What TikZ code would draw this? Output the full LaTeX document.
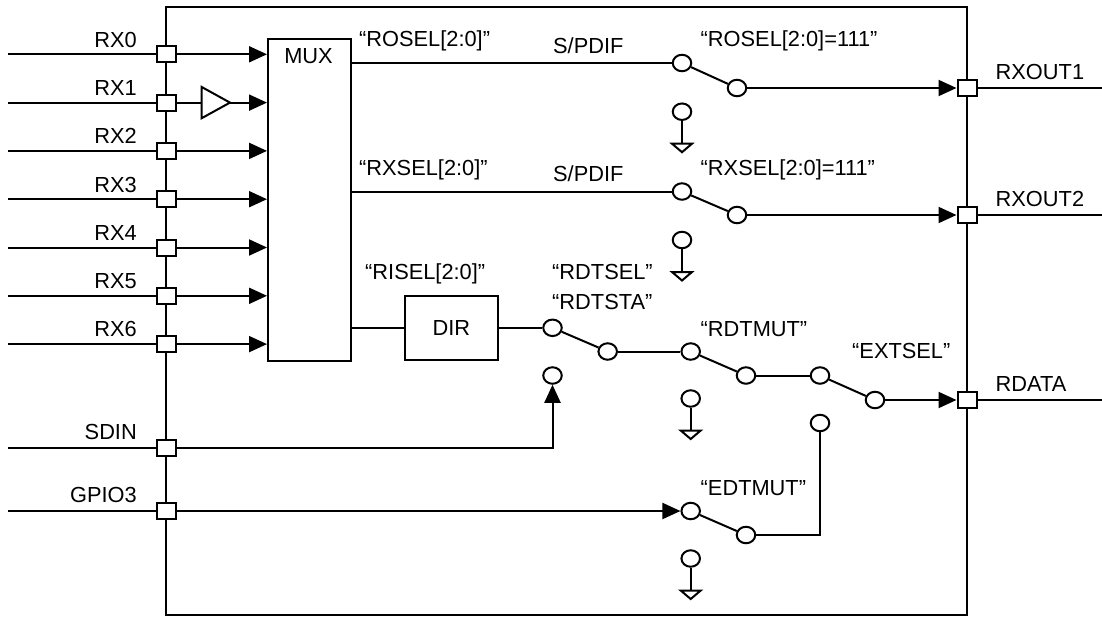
\documentclass[tikz,border=0pt]{standalone}
\usepackage{fontspec}
\setmainfont{Liberation Sans}
\usetikzlibrary{arrows.meta,shapes.geometric,calc}
\begin{document}
\begin{tikzpicture}[x=1pt,y=-1pt,
  wire/.style={line width=2pt},
  arr/.style={wire,-{Triangle[length=18pt,width=16pt]}},
  pin/.style={draw,fill=white,line width=2pt,minimum width=19pt,minimum height=16pt,inner sep=0pt},
  contact/.style={draw,fill=white,ellipse,line width=2pt,minimum width=18.5pt,minimum height=16.5pt,inner sep=0pt},
  lbl/.style={font=\fontsize{21.8}{26}\selectfont,inner sep=0pt},
  blk/.style={draw,line width=2pt,inner sep=0pt,font=\fontsize{21.8}{26}\selectfont},
  gnd/.pic={\draw[line width=2pt,line join=miter] (-10,0) -- (10,0) -- (0,8.5) -- cycle;}
]
\useasboundingbox (0,0) rectangle (1102,616);
% chip outline
\draw[line width=2.2pt] (166,7) rectangle (967,614.8);

% blocks
\node[blk,minimum width=83pt,minimum height=322pt,anchor=north west] (mux) at (267,38) {};
\node[lbl,anchor=base] (muxl) at (308.5,63.3) {MUX};
\node[blk,minimum width=93pt,minimum height=64pt] (dir) at (451.3,327.8) {DIR};

% buffer on RX1
\coordinate (bufin) at (201.7,102.6);
\coordinate (bufout) at (230,102.6);
\draw[wire,line join=miter,fill=white] (201.7,87) -- (230,102.6) -- (201.7,118.2) -- cycle;

% left pins
\foreach \i/\y in {0/54.3,1/102.6,2/150.9,3/199.2,4/247.5,5/295.8,6/344.1} {
  \node[pin] (pRX\i) at (166,\y) {};
  \coordinate (iRX\i) at (8,\y);
  \node[lbl,anchor=base east] (lRX\i) at (137,\y-7.2) {RX\i};
  \draw[wire] (iRX\i) -- (pRX\i);
}
\foreach \i in {0,2,3,4,5,6} {
  \draw[arr] (pRX\i) -- (pRX\i -| mux.west);
}
\draw[wire] (pRX1) -- (bufin);
\draw[arr] (bufout) -- (bufout -| mux.west);

\node[pin] (pSDIN) at (166,447.7) {};
\coordinate (iSDIN) at (8,447.7);
\node[lbl,anchor=base east] (lSDIN) at (137,439.5) {SDIN};
\draw[wire] (iSDIN) -- (pSDIN);

\node[pin] (pGPIO) at (166,511) {};
\coordinate (iGPIO) at (8,511);
\node[lbl,anchor=base east] (lGPIO) at (137,502) {GPIO3};
\draw[wire] (iGPIO) -- (pGPIO);

% right pins
\node[pin] (pO1) at (967,88) {};
\coordinate (oO1) at (1102,88);
\node[lbl,anchor=base west] (lO1) at (995.5,79.2) {RXOUT1};
\draw[wire] (pO1) -- (oO1);

\node[pin] (pO2) at (967,215) {};
\coordinate (oO2) at (1102,215);
\node[lbl,anchor=base west] (lO2) at (995.5,206.5) {RXOUT2};
\draw[wire] (pO2) -- (oO2);

\node[pin] (pRD) at (967,400) {};
\coordinate (oRD) at (1102,400);
\node[lbl,anchor=base west] (lRD) at (995.5,391.5) {RDATA};
\draw[wire] (pRD) -- (oRD);

% switch contacts
\node[contact] (ros1) at (682,63) {};
\node[contact] (ros2) at (737,88) {};
\node[contact] (g1) at (682,111.7) {};
\node[contact] (rxs1) at (682,191.5) {};
\node[contact] (rxs2) at (737,215) {};
\node[contact] (g2) at (682,240) {};
\node[contact] (rd1) at (552.5,327.8) {};
\node[contact] (rd2) at (607.7,351.5) {};
\node[contact] (sd) at (552.5,375.5) {};
\node[contact] (rdm1) at (690.7,351.5) {};
\node[contact] (rdm2) at (746,375.5) {};
\node[contact] (g3) at (690.7,398.5) {};
\node[contact] (ext1) at (820,375.5) {};
\node[contact] (ext2) at (875,400) {};
\node[contact] (ext3) at (820,423) {};
\node[contact] (edm1) at (690.7,511) {};
\node[contact] (edm2) at (746,535) {};
\node[contact] (g4) at (690.7,558.5) {};

% grounds
\foreach \g in {g1,g2,g3,g4} {
  \coordinate (\g t) at ($(\g)+(0,32)$);
}
\foreach \g in {g1,g2,g3,g4} {
  \draw[wire] (\g) -- (\g t);
  \pic at (\g t) {gnd};
}

% labels
\node[lbl,anchor=base west] (tRosel) at (359,46.5) {“ROSEL[2:0]”};
\node[lbl,anchor=base] (tSp1) at (588.3,53.5) {S/PDIF};
\node[lbl,anchor=base west] (tRosel7) at (700.5,46.5) {“ROSEL[2:0]=111”};
\node[lbl,anchor=base west] (tRxsel) at (359,175) {“RXSEL[2:0]”};
\node[lbl,anchor=base] (tSp2) at (588.3,181.5) {S/PDIF};
\node[lbl,anchor=base west] (tRxsel7) at (700.5,175) {“RXSEL[2:0]=111”};
\node[lbl,anchor=base west] (tRisel) at (365,279.5) {“RISEL[2:0]”};
\node[lbl,anchor=base west] (tRdtsel) at (552,279.5) {“RDTSEL”};
\node[lbl,anchor=base west] (tRdtsta) at (552,309.5) {“RDTSTA”};
\node[lbl,anchor=base west] (tRdtmut) at (700.5,336) {“RDTMUT”};
\node[lbl,anchor=base west] (tExtsel) at (852,358) {“EXTSEL”};
\node[lbl,anchor=base west] (tEdtmut) at (700.5,495) {“EDTMUT”};

% ROSEL path
\draw[wire] (ros1 -| mux.east) -- (ros1);
\draw[wire] (ros1) -- (ros2);
\draw[arr] (ros2) -- (pO1);
% RXSEL path
\draw[wire] (rxs1 -| mux.east) -- (rxs1);
\draw[wire] (rxs1) -- (rxs2);
\draw[arr] (rxs2) -- (pO2);
% RDATA path
\draw[wire] (dir.west -| mux.east) -- (dir.west);
\draw[wire] (dir.east) -- (rd1);
\draw[wire] (rd1) -- (rd2);
\draw[wire] (rd2) -- (rdm1);
\draw[wire] (rdm1) -- (rdm2);
\draw[wire] (rdm2) -- (ext1);
\draw[wire] (ext1) -- (ext2);
\draw[arr] (ext2) -- (pRD);
% SDIN
\draw[arr,line join=miter] (pSDIN) -- (pSDIN -| sd) -- (sd);
% GPIO3
\draw[arr] (pGPIO) -- (edm1);
\draw[wire] (edm1) -- (edm2);
\draw[wire,line join=miter] (edm2) -- (edm2 -| ext3) -- (ext3);
\end{tikzpicture}
\end{document}
